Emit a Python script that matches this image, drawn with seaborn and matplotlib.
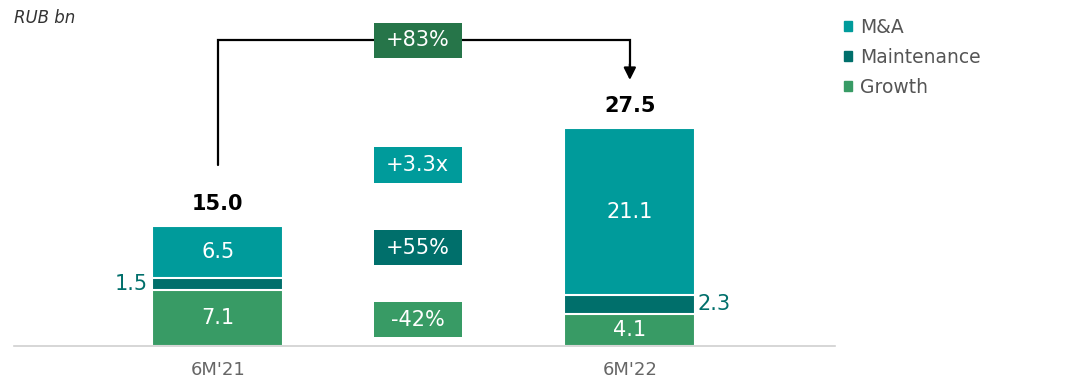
import matplotlib
matplotlib.use("Agg")
import matplotlib.pyplot as plt
from matplotlib.patches import Patch, Rectangle
import seaborn as sns

# data
periods = ["6M'21", "6M'22"]
growth = [7.1, 4.1]
maintenance = [1.5, 2.3]
mna = [6.5, 21.1]
totals = [15.0, 27.5]
change_labels = ["+83%", "+3.3x", "+55%", "-42%"]

c_mna = "#009b9b"
c_maint = "#006f6b"
c_growth = "#389b65"
c_total = "#267549"

sns.set_theme(style="white")
plt.rcParams["font.family"] = ["DejaVu Sans"]

fig = plt.figure(figsize=(10.76, 3.82), dpi=100)
ax = fig.add_axes([14 / 1076, 36 / 382, 821 / 1076, 346 / 382])

lvl2 = [g + m for g, m in zip(growth, maintenance)]
lvl3 = [a + b for a, b in zip(lvl2, mna)]

# stacked bars drawn back to front
for vals, col in [(lvl3, c_mna), (lvl2, c_maint), (growth, c_growth)]:
    sns.barplot(x=periods, y=vals, color=col, width=0.318, ax=ax,
                edgecolor="white", linewidth=1.5, saturation=1)

ax.set_xlim(-0.495, 1.498)
ax.set_ylim(0, 43.7)
sns.despine(ax=ax, left=True)
ax.spines["bottom"].set_color("#d0d0d0")
ax.spines["bottom"].set_linewidth(1.2)
ax.set_yticks([])
ax.tick_params(axis="x", length=0, pad=11, labelsize=13, labelcolor="#666666")

# segment labels
for i in range(2):
    ax.text(i, growth[i] / 2, f"{growth[i]:.1f}", ha="center", va="center",
            color="white", fontsize=15)
    ax.text(i, lvl2[i] + mna[i] / 2, f"{mna[i]:.1f}", ha="center", va="center",
            color="white", fontsize=15)
    ax.text(i, lvl3[i] + 1.6, f"{totals[i]:.1f}", ha="center", va="bottom",
            color="black", fontsize=15, fontweight="bold")
ax.text(-0.21, growth[0] + maintenance[0] / 2, f"{maintenance[0]:.1f}",
        ha="center", va="center", color=c_maint, fontsize=15)
ax.text(1.205, growth[1] + maintenance[1] / 2, f"{maintenance[1]:.1f}",
        ha="center", va="center", color=c_maint, fontsize=15)

# connector arrow
ytop = 38.6
ax.plot([0, 0, 1, 1], [22.8, ytop, ytop, 35.0], color="black", lw=1.6,
        solid_joinstyle="miter", zorder=3)
ax.annotate("", xy=(1, 33.6), xytext=(1, 35.6),
            arrowprops=dict(arrowstyle="-|>", color="black", lw=1.6,
                            mutation_scale=18, shrinkA=0, shrinkB=0), zorder=3)

# change boxes
box_x = 0.485
box_w = 0.2136
box_h = 4.45
box_y = [ytop, 22.85, 12.4, 3.3]
box_c = [c_total, c_mna, c_maint, c_growth]
for lab, yy, cc in zip(change_labels, box_y, box_c):
    ax.add_patch(Rectangle((box_x - box_w / 2, yy - box_h / 2), box_w, box_h,
                           fc=cc, ec="none", zorder=4))
    ax.text(box_x, yy, lab, ha="center", va="center", color="white",
            fontsize=15, zorder=5)

# legend
handles = [Patch(color=c_mna, label="M&A"),
           Patch(color=c_maint, label="Maintenance"),
           Patch(color=c_growth, label="Growth")]
leg = fig.legend(handles=handles, loc="upper left",
                 bbox_to_anchor=(827 / 1076, 1 - 1 / 382),
                 frameon=False, fontsize=13.5, handlelength=0.45, handleheight=0.45,
                 handletextpad=0.4, labelspacing=0.58)
for t in leg.get_texts():
    t.set_color("#555555")

fig.text(14 / 1076, 1 - 18 / 382, "RUB bn", ha="left", va="center",
         fontsize=12, style="italic", color="#333333")

fig.savefig("out.png", dpi=100)
